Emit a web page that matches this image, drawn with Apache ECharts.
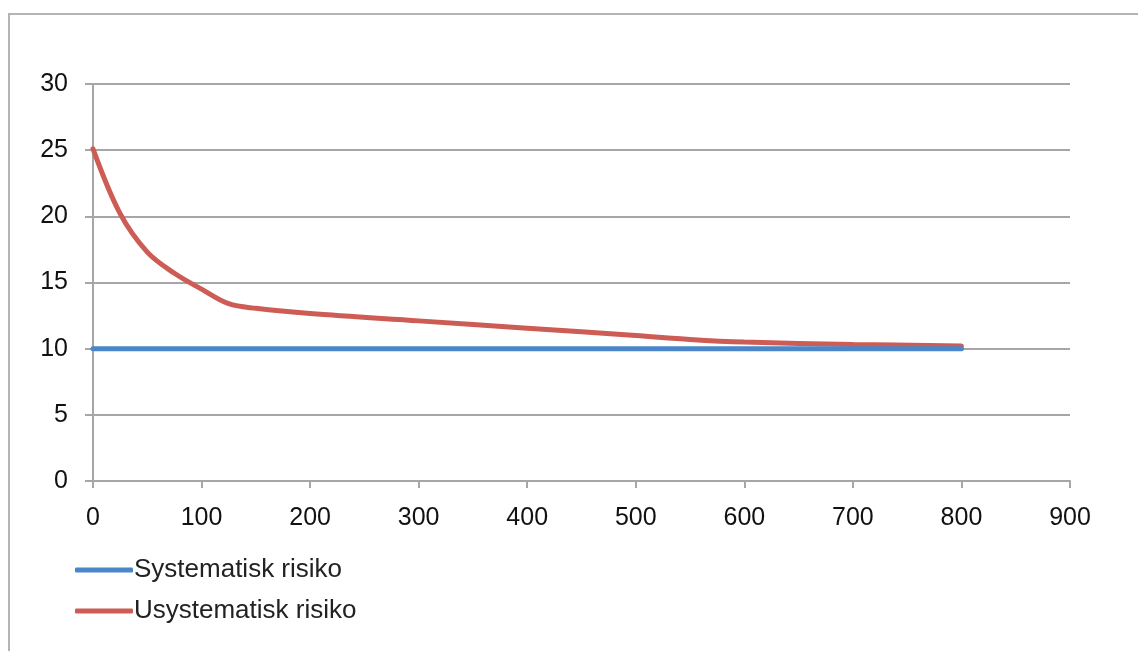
<!DOCTYPE html>
<html><head><meta charset="utf-8">
<script src="https://cdn.jsdelivr.net/npm/echarts@6/dist/echarts.min.js"></script>
<style>html,body{margin:0;padding:0;background:#fff}#c{width:1138px;height:651px}</style>
</head><body><div id="c"></div>
<script>
var xTicks = [0,100,200,300,400,500,600,700,800,900];
var yTicks = [0,5,10,15,20,25,30];
var sysX = [0, 800];
var sysY = [10, 10];
var usysX = [0, 25, 50, 75, 100, 125, 150, 200, 300, 400, 500, 550, 600, 700, 800];
var usysY = [25.1, 20.2, 17.3, 15.7, 14.5, 13.4, 13.05, 12.65, 12.1, 11.55, 11.0, 10.7, 10.5, 10.32, 10.2];
var names = ['Systematisk risiko', 'Usystematisk risiko'];

function pairs(xs, ys){ return xs.map(function(x,i){return [x, ys[i]];}); }
var chart = echarts.init(document.getElementById('c'));
var font = 'Liberation Sans, Arial, sans-serif';
chart.setOption({
  animation: false,
  graphic: [{type:'rect', shape:{x:9,y:14,width:1300,height:800}, style:{fill:'none', stroke:'#b4b4b4', lineWidth:2}}],
  grid: {left:93, right:68, top:84, bottom:170},
  legend: {
    orient:'vertical', left:70, top:552, itemGap:15, itemWidth:58, itemHeight:5,
    icon:'roundRect',
    textStyle:{fontFamily:font, fontSize:26, color:'#222', padding:[0,0,0,-4]},
    data: names
  },
  xAxis: {
    type:'value', min:0, max:900, interval:100,
    axisLine:{show:true, lineStyle:{color:'#a6a6a6', width:2}},
    axisTick:{show:true, length:7, lineStyle:{color:'#a6a6a6', width:2}},
    splitLine:{show:false},
    axisLabel:{fontFamily:font, fontSize:25, color:'#111', margin:25}
  },
  yAxis: {
    type:'value', min:0, max:30, interval:5,
    axisLine:{show:true, lineStyle:{color:'#a6a6a6', width:2}},
    axisTick:{show:true, length:8, lineStyle:{color:'#a6a6a6', width:2}},
    splitLine:{show:true, lineStyle:{color:'#a6a6a6', width:2}},
    axisLabel:{fontFamily:font, fontSize:25, color:'#111', margin:25}
  },
  series: [
    {name:names[1], type:'line', data:pairs(usysX, usysY), smooth:0.35, showSymbol:false, symbol:'none',
     lineStyle:{color:'#cd5c55', width:5, cap:'round'}, itemStyle:{color:'#cd5c55'}, z:2},
    {name:names[0], type:'line', data:pairs(sysX, sysY), showSymbol:false, symbol:'none',
     lineStyle:{color:'#4a86c8', width:5, cap:'round'}, itemStyle:{color:'#4a86c8'}, z:3}
  ]
});
</script></body></html>
